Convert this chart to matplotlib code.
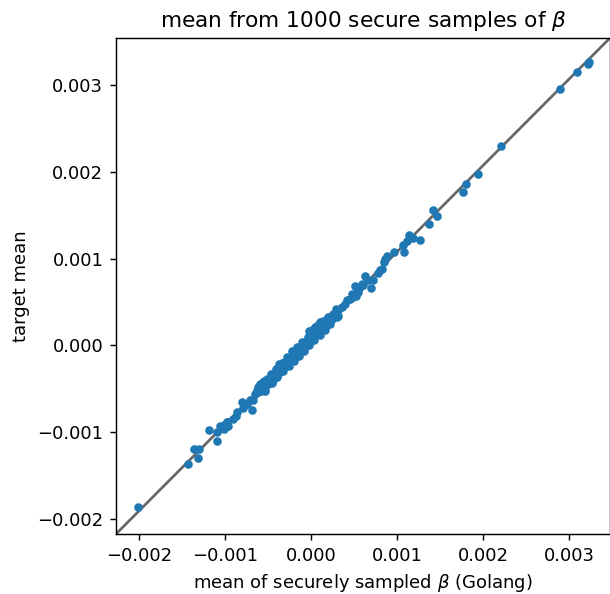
import numpy as np
import matplotlib.pyplot as plt

# means in units of 1e-3
golang_mean = [
    -2.008, -1.430, -1.317, -1.364, -1.302, -1.190, -1.093, -1.097, -1.055, -1.015,
    -0.973, -0.965, -1.038, -1.012, -0.980, -0.903, -0.876, -0.864, -0.787, -0.799,
    -0.748, -0.690, -0.709, -0.671, -0.651, -0.631, -0.613, -0.593, -0.555, -0.573,
    -0.535, -0.515, -0.477, -0.457, -0.419, -0.438, -0.399, -0.369,
    -0.62, -0.60, -0.58, -0.56, -0.54, -0.52, -0.50, -0.48, -0.46, -0.44,
    -0.42, -0.40, -0.38, -0.37,
    -0.36, -0.35, -0.34, -0.33, -0.32, -0.31, -0.30, -0.29, -0.28, -0.27,
    -0.26, -0.25, -0.24, -0.23, -0.22, -0.21, -0.20, -0.19, -0.18, -0.17,
    -0.16, -0.15, -0.14, -0.13, -0.12, -0.11, -0.10, -0.09, -0.08, -0.07,
    -0.06, -0.05, -0.04, -0.03, -0.02, -0.01, 0.00, 0.01, 0.02, 0.03,
    0.04, 0.05, 0.06, 0.07, 0.08, 0.09, 0.10, 0.11, 0.12, 0.13,
    0.14, 0.15, 0.16, 0.17, 0.18, 0.19, 0.20, 0.22, 0.24, 0.26,
    -0.02, 0.01, 0.05, 0.08, 0.10,
    -0.55, -0.53, -0.47, -0.45, -0.41, -0.39, -0.34, -0.32, -0.28, -0.26,
    -0.22, -0.20, -0.16, -0.14, -0.10, -0.08, -0.04, -0.02, 0.02, 0.04,
    0.08, 0.10, 0.14, 0.16, 0.20, 0.22, 0.29, 0.31,
    0.202, 0.240, 0.298, 0.279, 0.318, 0.357, 0.415, 0.395, 0.453, 0.492,
    0.473, 0.531, 0.512, 0.570, 0.589, 0.667, 0.628, 0.550, 0.523, 0.601,
    0.694, 0.725, 0.783, 0.802, 0.822, 0.853, 0.860, 0.888, 0.965, 1.081,
    1.073, 1.120, 1.183, 1.143, 1.267, 1.376, 1.469, 1.415,
    1.764, 1.798, 1.946, 2.206, 2.895, 3.097, 3.225, 3.236,
]
target_mean = [
    -1.858, -1.368, -1.298, -1.194, -1.190, -0.979, -1.098, -0.999, -0.933, -0.967,
    -0.883, -0.933, -0.948, -0.922, -0.883, -0.845, -0.814, -0.768, -0.718, -0.653,
    -0.671, -0.748, -0.626, -0.634, -0.556, -0.519, -0.480, -0.441, -0.422, -0.519,
    -0.480, -0.384, -0.422, -0.345, -0.325, -0.403, -0.268, -0.210,
    -0.533, -0.494, -0.523, -0.444, -0.474, -0.415, -0.444, -0.375, -0.405, -0.335,
    -0.365, -0.296, -0.325, -0.256,
    -0.246, -0.296, -0.226, -0.266, -0.206, -0.246, -0.187, -0.226, -0.216, -0.157,
    -0.196, -0.147, -0.177, -0.117, -0.157, -0.107, -0.137, -0.087, -0.127, -0.068,
    -0.097, -0.048, -0.078, -0.028, -0.068, -0.008, -0.038, 0.012, -0.018, 0.031,
    -0.008, 0.051, 0.022, 0.071, 0.031, 0.091, 0.061, 0.111, 0.081, 0.131,
    0.091, 0.150, 0.121, 0.170, 0.131, 0.200, 0.160, 0.220, 0.180, 0.240,
    0.200, 0.249, 0.210, 0.269, 0.240, 0.299, 0.259, 0.329, 0.299, 0.358,
    0.160, 0.180, 0.210, 0.230, 0.269,
    -0.41, -0.52, -0.33, -0.43, -0.27, -0.37, -0.20, -0.30, -0.13, -0.24,
    -0.07, -0.18, -0.02, -0.12, 0.04, -0.06, 0.10, 0.00, 0.16, 0.06,
    0.22, 0.12, 0.28, 0.18, 0.33, 0.25, 0.42, 0.34,
    0.288, 0.327, 0.327, 0.365, 0.404, 0.442, 0.519, 0.480, 0.539, 0.557,
    0.596, 0.614, 0.681, 0.673, 0.711, 0.749, 0.795, 0.614, 0.565, 0.691,
    0.666, 0.749, 0.833, 0.865, 0.884, 0.960, 0.999, 1.025, 1.075, 1.075,
    1.152, 1.202, 1.241, 1.268, 1.219, 1.395, 1.487, 1.556,
    1.764, 1.864, 1.979, 2.297, 2.958, 3.150, 3.238, 3.265,
]
x_lims = [-2.267e-3, 3.477e-3]
y_lims = [-2.173e-3, 3.541e-3]

dpi = 130
fig = plt.figure(figsize=(610 / dpi, 594 / dpi), dpi=dpi)
ax = fig.add_axes([116 / 610, (594 - 534) / 594, 494 / 610, 496 / 594])

x = np.array(golang_mean) * 1e-3
y = np.array(target_mean) * 1e-3
ax.scatter(x, y, s=14, color='#1f77b4', zorder=2)
# reference line drawn corner to corner of the view, behind the points
ax.plot(x_lims, y_lims, color='#666666', lw=1.5, zorder=1)
ax.set_xlim(x_lims)
ax.set_ylim(y_lims)
ax.set_xticks([-0.002, -0.001, 0.0, 0.001, 0.002, 0.003])
ax.set_yticks([-0.002, -0.001, 0.0, 0.001, 0.002, 0.003])
ax.set_xlabel(r'mean of securely sampled $\beta$ (Golang)')
ax.set_ylabel('target mean')
ax.set_title(r'mean from 1000 secure samples of $\beta$')

fig.savefig('out.png', dpi=dpi)
